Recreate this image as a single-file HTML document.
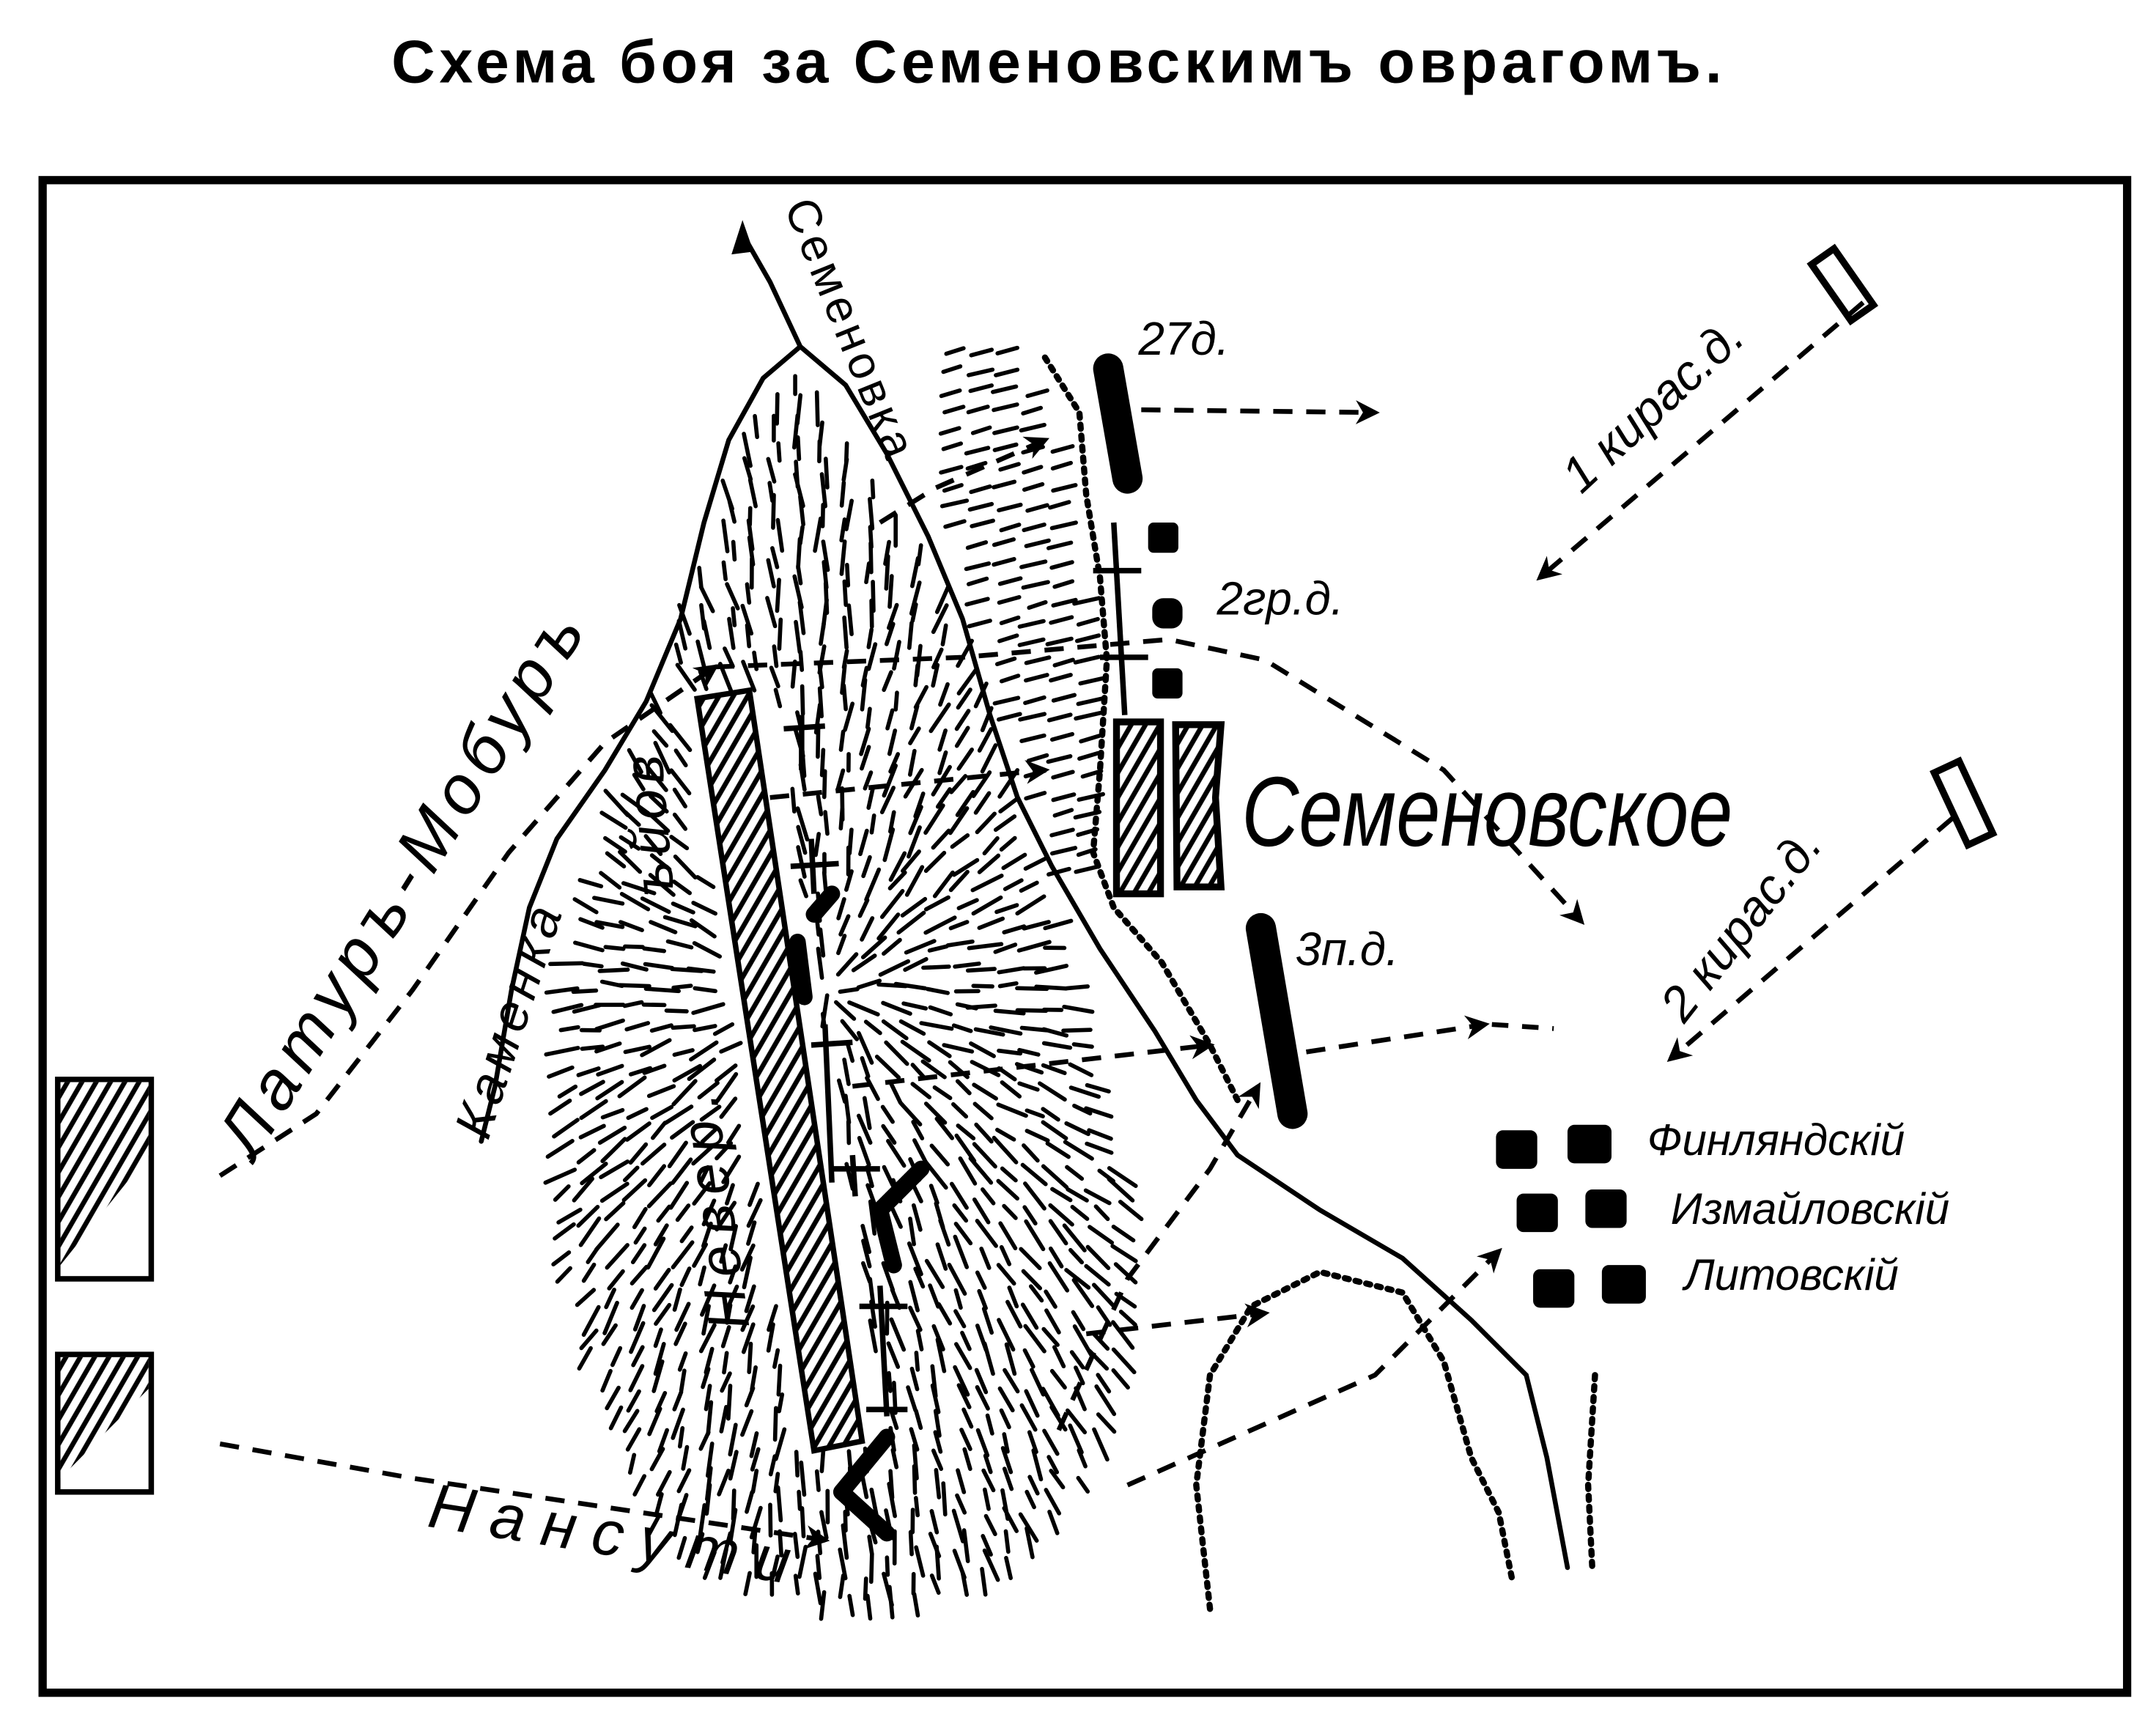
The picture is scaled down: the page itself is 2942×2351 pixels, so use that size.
<!DOCTYPE html>
<html><head><meta charset="utf-8"><style>
html,body{margin:0;padding:0;background:#fff;}
svg{display:block;}
text{font-family:"Liberation Sans","DejaVu Sans",sans-serif;fill:#000;}
</style></head><body>
<svg id="s" width="2942" height="2351" viewBox="0 0 1568 1253" xmlns="http://www.w3.org/2000/svg">
<defs>
<pattern id="hat" width="9" height="9" patternUnits="userSpaceOnUse" patternTransform="rotate(-60)">
<rect width="9" height="9" fill="#fff"/><line x1="0" y1="4" x2="9" y2="4" stroke="#000" stroke-width="3.5"/>
</pattern>
<marker id="ar" viewBox="0 0 10 10" refX="8" refY="5" markerWidth="5" markerHeight="5" orient="auto"><path d="M0,0 L10,5 L0,10 L3,5z" fill="#000"/></marker>
</defs>
<rect width="1568" height="1253" fill="#fff"/>
<text x="770" y="60" font-size="44" font-weight="bold" text-anchor="middle" letter-spacing="3">Схема  боя  за  Семеновскимъ  оврагомъ.</text>
<rect x="31" y="131" width="1516" height="1100" fill="none" stroke="#000" stroke-width="6"/>
<g id="hach" stroke="#000" stroke-width="3" stroke-linecap="round" fill="none"></g>
<g stroke="#000" stroke-width="3.5" fill="none" stroke-linecap="round">
<path d="M540,170 L560,205 L582,252 L615,280 L645,330 L675,390 L700,450 L720,520 L740,580 L765,630 L800,690 L840,750 L870,800 L900,840 L960,880 L1020,915 L1070,960 L1110,1000 L1125,1060 L1140,1140"/>
<path d="M582,252 L555,275 L530,320 L512,380 L495,450 L470,510 L440,560 L405,610 L385,660 L372,720 L360,790 L350,830"/>
</g>
<path d="M540,160 L532,185 L548,183z" fill="#000"/>
<g stroke="#000" stroke-width="4.5" stroke-dasharray="3 5" fill="none" stroke-linecap="round">
<path d="M760,260 L785,300 L790,360 L800,420 L805,480 L800,560 L795,620 L810,660 L845,700 L880,760 L900,800"/>
<path d="M880,1170 L870,1080 L880,1000 L910,950 L960,925 L1020,940 L1050,990 L1070,1060 L1090,1100 L1100,1150"/>
<path d="M1160,1000 L1155,1080 L1158,1140"/>
</g>
<polygon points="507,508 545,502 627,1048 592,1055" fill="url(#hat)" stroke="#000" stroke-width="4"/>
<rect x="42" y="785" width="68" height="145" fill="#fff" stroke="#000" stroke-width="4"/>
<polygon points="44,787 108,787 108,840 44,920" fill="url(#hat)"/>
<rect x="42" y="985" width="68" height="100" fill="#fff" stroke="#000" stroke-width="4"/>
<polygon points="44,987 108,987 108,1010 44,1075" fill="url(#hat)"/>
<rect x="812" y="525" width="32" height="125" fill="url(#hat)" stroke="#000" stroke-width="5"/>
<polygon points="855,527 888,527 884,580 888,645 856,645" fill="url(#hat)" stroke="#000" stroke-width="5"/>
<g stroke="#000" stroke-linecap="round">
<line x1="806" y1="268" x2="820" y2="348" stroke-width="22"/>
<line x1="917" y1="675" x2="940" y2="810" stroke-width="22"/>
<line x1="592" y1="665" x2="605" y2="650" stroke-width="12"/>
<line x1="580" y1="685" x2="585" y2="725" stroke-width="12"/>
<line x1="640" y1="880" x2="650" y2="920" stroke-width="12"/>
<line x1="640" y1="880" x2="670" y2="850" stroke-width="12"/>
<line x1="612" y1="1085" x2="645" y2="1045" stroke-width="12"/>
<line x1="612" y1="1085" x2="645" y2="1115" stroke-width="12"/>
</g>
<g stroke="#000" stroke-width="4">
<line x1="570" y1="530" x2="600" y2="528"/><line x1="583" y1="520" x2="583" y2="560"/>
<line x1="575" y1="630" x2="610" y2="628"/><line x1="590" y1="610" x2="592" y2="650"/>
<line x1="590" y1="760" x2="620" y2="758"/><line x1="600" y1="745" x2="605" y2="860"/>
<line x1="605" y1="850" x2="640" y2="850"/><line x1="620" y1="840" x2="622" y2="870"/>
<line x1="625" y1="950" x2="660" y2="950"/><line x1="640" y1="935" x2="645" y2="1030"/>
<line x1="630" y1="1025" x2="660" y2="1025"/>
<line x1="795" y1="415" x2="830" y2="415"/><line x1="810" y1="380" x2="818" y2="520"/>
<line x1="800" y1="478" x2="835" y2="478"/>
</g>
<g fill="#000">
<rect x="835" y="380" width="22" height="22" rx="4"/><rect x="838" y="435" width="22" height="22" rx="8"/><rect x="838" y="486" width="22" height="22" rx="4"/>
<rect x="1088" y="822" width="30" height="28" rx="5"/><rect x="1140" y="818" width="32" height="28" rx="5"/>
<rect x="1103" y="868" width="30" height="28" rx="5"/><rect x="1153" y="865" width="30" height="28" rx="5"/>
<rect x="1115" y="923" width="30" height="28" rx="5"/><rect x="1165" y="920" width="32" height="28" rx="5"/>
</g>
<g stroke="#000" stroke-width="5" fill="#fff">
<rect x="1330" y="182" width="20" height="50" transform="rotate(-35 1340 207)"/>
<rect x="1418" y="555" width="20" height="58" transform="rotate(-25 1428 584)"/>
</g>
<g stroke="#000" stroke-width="3.5" stroke-dasharray="14 10" fill="none" marker-end="url(#ar)">
<path d="M830,298 L1000,300"/>
<path d="M1355,220 L1120,420"/>
<path d="M1420,595 L1215,770"/>
<path d="M160,855 L230,810 L300,720 L370,620 L440,540 L520,485"/>
<path d="M160,1050 L300,1075 L400,1090 L600,1120"/>
<path d="M820,1080 L1000,1000 L1090,910"/>
<path d="M770,1040 L820,930 L880,850 L915,790"/>
<path d="M790,970 L920,955"/>
<path d="M620,790 L880,760"/>
<path d="M560,580 L760,560"/>
<path d="M520,485 L700,478 L850,465 L920,480 L1050,560 L1150,670"/>
<path d="M640,380 L680,355 L760,320"/>
<path d="M950,765 L1080,745"/>
</g>
<line x1="1085" y1="745" x2="1130" y2="748" stroke="#000" stroke-width="3.5" stroke-dasharray="12 10"/>
<text x="828" y="258" font-size="34" font-style="italic">27д.</text>
<text x="885" y="447" font-size="34" font-style="italic">2гр.д.</text>
<text x="942" y="702" font-size="34" font-style="italic">3п.д.</text>
<text x="903" y="615" font-size="72" font-family="Liberation Serif,serif" font-style="italic" transform="scale(0.8 1)" style="transform-origin:903px 615px">Семеновское</text>
<text x="1198" y="840" font-size="32" font-style="italic">Финляндскій</text>
<text x="1215" y="890" font-size="32" font-style="italic">Измайловскій</text>
<text x="1225" y="938" font-size="32" font-style="italic">Литовскій</text>
<text x="1150" y="360" font-size="36" font-style="italic" transform="rotate(-43 1150 360)">1 кирас.д.</text>
<text x="1225" y="745" font-size="36" font-style="italic" transform="rotate(-52 1225 745)">2 кирас.д.</text>
<text x="185" y="845" font-size="50" font-style="italic" letter-spacing="6" transform="rotate(-58 185 845)">Латуръ-Мобуръ</text>
<text x="355" y="830" font-size="38" font-style="italic" letter-spacing="4" transform="rotate(-72 355 830)">Каменка</text>
<text x="570" y="150" font-size="34" letter-spacing="3" transform="rotate(68 570 150)">Семеновка</text>
<text x="310" y="1110" font-size="46" font-style="italic" letter-spacing="12" transform="rotate(9 310 1110)">Нансути</text>
<text x="545" y="965" font-size="42" font-style="italic" letter-spacing="8" transform="rotate(-98 545 965)">Невер.</text>
<text x="490" y="650" font-size="40" font-style="italic" letter-spacing="4" transform="rotate(-95 490 650)">ъйов</text>
</svg>
<script>
(function(){
var g=document.getElementById('hach');var ns='http://www.w3.org/2000/svg';
function inPoly(x,y,p){var c=false;for(var i=0,j=p.length-1;i<p.length;j=i++){var a=p[i],b=p[j];if(((a[1]>y)!=(b[1]>y))&&(x<(b[0]-a[0])*(y-a[1])/(b[1]-a[1])+a[0]))c=!c;}return c;}
var hill=[[580,270],[620,330],[680,420],[720,520],[760,640],[800,760],[830,900],[820,1000],[790,1080],[730,1150],[640,1175],[540,1160],[480,1120],[440,1040],[410,940],[400,820],[410,700],[440,600],[480,500],[520,380],[550,300]];
var cx=600,cy=720;var seed=7;function r(){seed=(seed*9301+49297)%233280;return seed/233280;}
for(var y=250;y<1180;y+=15){for(var x=390;x<840;x+=17){var px=x+r()*8,py=y+r()*6;if(!inPoly(px,py,hill))continue;
if(px>495&&px<640&&py>500&&py<1060&&Math.abs(px-(507+(py-505)*0.155)-20)<35)continue;
var a=Math.atan2(py-cy,px-cx)+(r()-0.5)*0.4;var L=6+r()*6;
var l=document.createElementNS(ns,'line');l.setAttribute('x1',px-Math.cos(a)*L);l.setAttribute('y1',py-Math.sin(a)*L);l.setAttribute('x2',px+Math.cos(a)*L);l.setAttribute('y2',py+Math.sin(a)*L);g.appendChild(l);}}
var rav=[[680,240],[730,250],[770,300],[790,420],[800,520],[800,640],[770,640],[740,560],[715,470],[690,380],[678,300]];
for(var y=240;y<650;y+=14){for(var x=670;x<805;x+=20){var px=x+r()*5,py=y+r()*4;if(!inPoly(px,py,rav))continue;var L=6+r()*3;
var l=document.createElementNS(ns,'line');l.setAttribute('x1',px-L);l.setAttribute('y1',py+2);l.setAttribute('x2',px+L);l.setAttribute('y2',py-2);g.appendChild(l);}}
})();
</script>
</body></html>
